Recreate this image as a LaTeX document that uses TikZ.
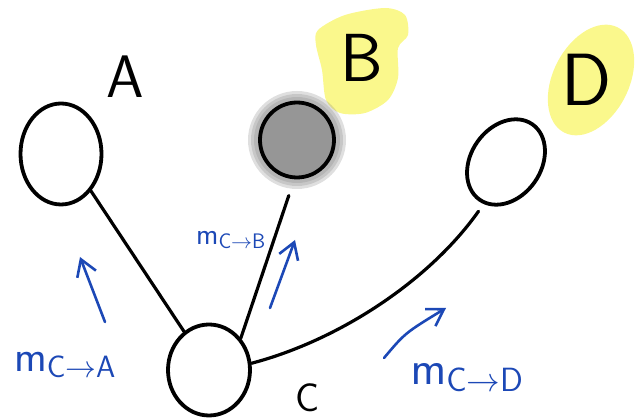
\RequirePackage{fix-cm}
\documentclass[tikz,border=0pt]{standalone}
\usepackage{amsmath}
\usetikzlibrary{shapes.geometric,arrows.meta}
\definecolor{penblue}{RGB}{28,72,182}
\definecolor{hilite}{RGB}{250,248,140}
\definecolor{shade}{RGB}{150,150,150}

\begin{document}
\begin{tikzpicture}[x=1pt,y=-1pt,
  vertex/.style={draw, ellipse, line width=3.8pt, inner sep=0pt},
  letter/.style={inner sep=0pt},
  msg/.style={text=penblue, inner sep=0pt},
  msgarrow/.style={draw=penblue, line width=2.6pt, line cap=round,
    -{Straight Barb[length=16pt,width=20pt]}},
  link/.style={line width=3.2pt, line cap=round}]
\useasboundingbox (0,0) rectangle (638,419);

% Highlights behind B and D
\fill[hilite] plot[smooth cycle] coordinates {(318,30) (345,15) (385,8) (405,15)
  (408,35) (398,48) (398,78) (388,100) (365,113) (340,113) (326,100)
  (322,70) (316,45)};
\node[ellipse, fill=hilite, minimum width=76pt, minimum height=118pt,
  rotate=-27] (Dmark) at (591,80) {};

% Halo round the observed node
\coordinate (Bc) at (297,140);
\foreach \r in {49,46,43} {
    \fill[gray, opacity=0.25] (Bc) circle[radius=\r];
}

% Nodes
\node[vertex, minimum width=81pt, minimum height=101pt] (A) at (61,154) {};
\node[vertex, fill=shade, minimum width=74pt, minimum height=75pt] (B) at (Bc) {};
\node[vertex, minimum width=70pt, minimum height=92pt, rotate=-35] (D) at (506,162) {};
\node[vertex, minimum width=82pt, minimum height=91pt] (C) at (209,370) {};

% Node names
\node[letter, font=\sffamily\fontsize{60}{60}\selectfont] (labA) at (125,77) {A};
\node[letter, font=\sffamily\fontsize{68}{68}\selectfont] (labB) at (362,58) {B};
\node[letter, font=\sffamily\fontsize{40}{40}\selectfont] (labC) at (308,398) {C};
\node[letter, font=\sffamily\fontsize{74}{74}\selectfont] (labD) at (587,80) {D};

% Edges
\draw[link] (A.309) -- (C.123);
\draw[link] ([yshift=-17pt]B.258) -- (C.45);
\draw[link] (C.9) .. controls (340,340) and (430,280) .. ([yshift=-10pt]D.south);

% Messages
\coordinate (mA0) at (105,322);
\coordinate (mA1) at (80,257);
\draw[msgarrow] (mA0) -- (mA1);
\coordinate (mB0) at (270,308);
\coordinate (mB1) at (295,240);
\draw[msgarrow] (mB0) -- (mB1);
\coordinate (mD0) at (384,358);
\coordinate (mD1) at (446,308);
\draw[msgarrow] (mD0) .. controls (405,333) .. (mD1);

\node[msg, font=\fontsize{44}{44}\selectfont] (mCA) at (65,365)
  {$\mathsf{m}_{\mathsf{C}\to\mathsf{A}}$};
\node[msg, font=\fontsize{30}{30}\selectfont] (mCB) at (231,240)
  {$\mathsf{m}_{\mathsf{C}\to\mathsf{B}}$};
\node[msg, font=\fontsize{48}{48}\selectfont] (mCD) at (467,378)
  {$\mathsf{m}_{\mathsf{C}\to\mathsf{D}}$};

\end{tikzpicture}
\end{document}
